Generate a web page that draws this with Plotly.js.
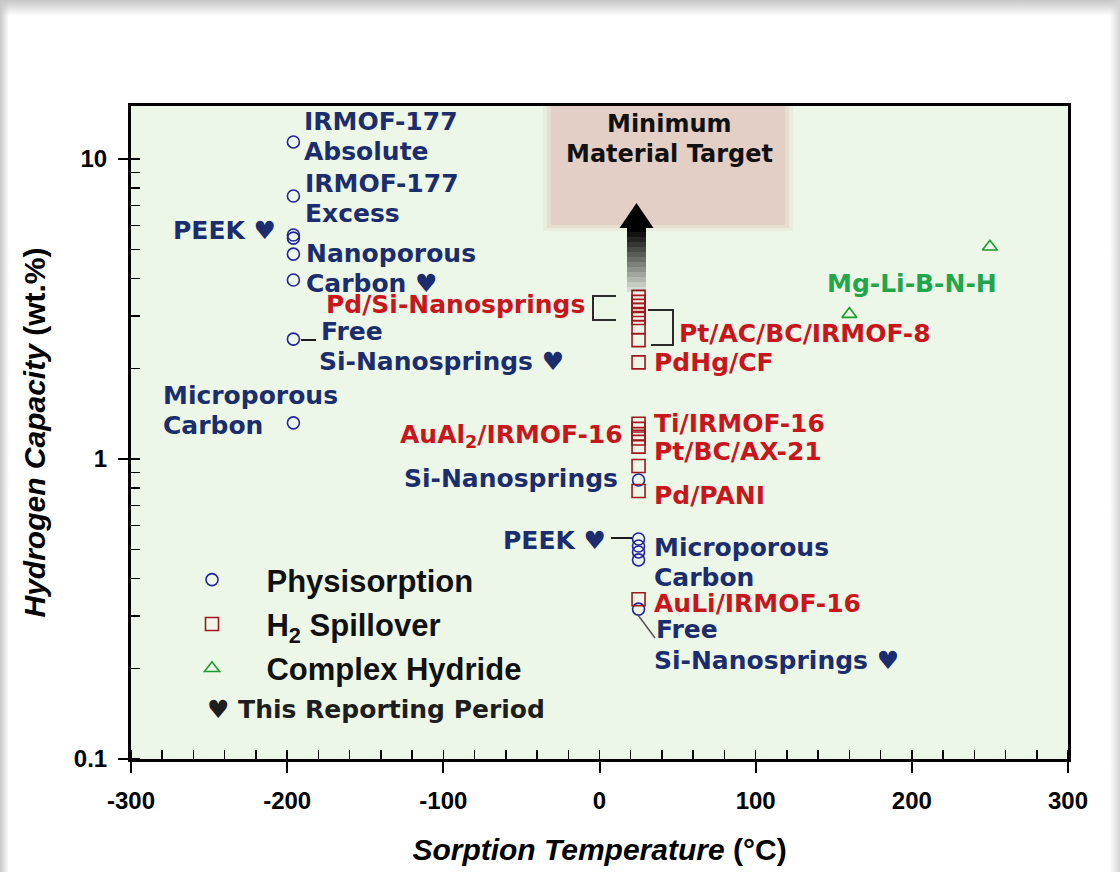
<!DOCTYPE html>
<html>
<head>
<meta charset="utf-8">
<script src="https://cdn.plot.ly/plotly-3.0.1.min.js"></script>
<style>
html,body{margin:0;padding:0;background:#fff;}
#wrap{position:relative;width:1120px;height:872px;overflow:hidden;}
#chart{position:absolute;left:0;top:0;width:1120px;height:872px;}
.edge{position:absolute;pointer-events:none;}
</style>
</head>
<body>
<div id="wrap">
<div id="chart"></div>
<div class="edge" style="left:0;top:0;width:1120px;height:16px;background:linear-gradient(#c6c6c6,rgba(255,255,255,0));"></div>
<div class="edge" style="left:0;top:0;width:9px;height:872px;background:linear-gradient(90deg,#c8c8c8,rgba(255,255,255,0));"></div>
<div class="edge" style="right:0;top:0;width:10px;height:872px;background:linear-gradient(270deg,#d4d4d4,rgba(255,255,255,0));"></div>
</div>
<script>
// ---------------- data ----------------
const physTemp = [-196, -196, -196, -196, -196, -196, -196, -196, 25, 25, 25, 25, 25, 25];
const physCap  = [11.4, 7.53, 5.58, 5.45, 4.82, 3.95, 2.51, 1.32, 0.851, 0.541, 0.513, 0.490, 0.461, 0.316];

const spillTemp = [25, 25, 25, 25, 25, 25, 25, 25, 25, 25, 25, 25, 25, 25, 25, 25, 25];
const spillCap  = [3.47, 3.34, 3.24, 3.14, 3.04, 2.95, 2.75, 2.49, 2.10, 1.31, 1.26, 1.21, 1.17, 1.10, 0.948, 0.782, 0.341];

const hydTemp = [160, 250];
const hydCap  = [3.04, 5.1];

const seriesNames = ['Physisorption', 'H<sub>2</sub> Spillover', 'Complex Hydride'];
const xTickVals = [-300, -200, -100, 0, 100, 200, 300];
const xTickText = ['-300', '-200', '-100', '0', '100', '200', '300'];
const xRange = [-300, 300];
const yRangeLog = [-1, 1.1767];

// ---------------- layout helpers ----------------
const L = 131, R = 1068, T = 106, B = 759;
const px = v => (v - L) / (R - L);
const py = v => (B - v) / (B - T);

const NAVY = '#1c2d6e', RED = '#c8161d', GREEN = '#22a64b';
const VFONT = 'DejaVu Sans, Verdana, sans-serif';
const AFONT = 'Liberation Sans, Arial, sans-serif';

function lab(text, x, y, anchor, color, size) {
  return {
    text: text, xref: 'paper', yref: 'paper', x: px(x), y: py(y),
    xanchor: anchor, yanchor: 'middle', align: anchor === 'right' ? 'right' : (anchor === 'center' ? 'center' : 'left'),
    showarrow: false, borderpad: 0,
    font: {family: VFONT, size: size || 25, color: color, weight: 'bold'}
  };
}

const annotations = [
  lab('IRMOF-177', 303, 121, 'left', NAVY),
  lab('Absolute', 303, 151, 'left', NAVY),
  lab('IRMOF-177', 304, 183, 'left', NAVY),
  lab('Excess', 304, 213, 'left', NAVY),
  lab('PEEK \u2665', 277, 231, 'right', NAVY),
  lab('Nanoporous', 305, 253, 'left', NAVY),
  lab('Carbon \u2665', 305, 283, 'left', NAVY),
  lab('Free', 320, 331, 'left', NAVY),
  lab('Si-Nanosprings \u2665', 318, 361, 'left', NAVY),
  lab('Microporous', 162, 395, 'left', NAVY),
  lab('Carbon', 162, 425, 'left', NAVY),
  lab('Si-Nanosprings', 619, 478, 'right', NAVY),
  lab('PEEK \u2665', 607, 540, 'right', NAVY),
  lab('Microporous', 653, 547, 'left', NAVY),
  lab('Carbon', 653, 577, 'left', NAVY),
  lab('Free', 655, 629, 'left', NAVY),
  lab('Si-Nanosprings \u2665', 653, 660, 'left', NAVY),
  lab('Pd/Si-Nanosprings', 586, 304, 'right', RED),
  lab('Pt/AC/BC/IRMOF-8', 678, 333, 'left', RED),
  lab('PdHg/CF', 653, 362, 'left', RED),
  lab('AuAl<sub>2</sub>/IRMOF-16', 624, 436, 'right', RED),
  lab('Ti/IRMOF-16', 653, 423, 'left', RED),
  lab('Pt/BC/AX-21', 653, 451, 'left', RED),
  lab('Pd/PANI', 653, 495, 'left', RED),
  lab('AuLi/IRMOF-16', 653, 603, 'left', RED),
  lab('Mg-Li-B-N-H', 826, 283, 'left', GREEN),
  lab('Minimum', 669, 124, 'center', '#111111', 24),
  lab('Material Target', 669, 154, 'center', '#111111', 24),
  lab('\u2665 This Reporting Period', 206, 709, 'left', '#1e1e1e', 25)
];

function pathP(pts, close) {
  return 'M' + pts.map(p => px(p[0]) + ',' + py(p[1])).join(' L') + (close ? ' Z' : '');
}
function rectP(x0, y0, x1, y1, fill, op) {
  return {type: 'rect', xref: 'paper', yref: 'paper', x0: px(x0), x1: px(x1), y0: py(y0), y1: py(y1),
          fillcolor: fill, opacity: op, line: {width: 0}, layer: 'below'};
}
function lineP(pts, color, w) {
  return {type: 'path', xref: 'paper', yref: 'paper', path: pathP(pts, false),
          line: {color: color, width: w}};
}

const shapes = [
  // target box with soft edges
  rectP(543, 106, 793, 231, '#e6d8cf', 0.35),
  rectP(547, 106, 789, 228, '#e4d3c9', 0.55),
  rectP(551, 106, 785, 225, '#e2cdc3', 0.85),
  // brackets and leader lines
  lineP([[301, 340], [316, 340]], '#1a1a1a', 2),
  lineP([[616, 296], [593, 296], [593, 320], [616, 320]], '#2a2a2a', 2),
  lineP([[648, 310], [673, 310], [673, 345], [651, 345]], '#2a2a2a', 2),
  lineP([[611, 538], [632, 538]], '#1a1a1a', 2),
  lineP([[638, 615], [655, 638]], '#555555', 1.5),
  // arrow head
  {type: 'path', xref: 'paper', yref: 'paper', path: pathP([[636.5, 203], [653.5, 228], [619.5, 228]], true),
   fillcolor: '#000000', line: {width: 0}}
];
// arrow shaft fading downward
for (let i = 0; i < 13; i++) {
  const y0 = 227 + i * 5;
  shapes.push({type: 'rect', xref: 'paper', yref: 'paper', x0: px(627), x1: px(646), y0: py(y0), y1: py(y0 + 5),
               fillcolor: '#000000', opacity: Math.max(0.06, 1 - i * 0.075), line: {width: 0}});
}

const traces = [
  {x: physTemp, y: physCap, name: seriesNames[0], type: 'scatter', mode: 'markers', legendgroup: 'a',
   marker: {symbol: 'circle-open', size: 12, color: '#2222a0', line: {width: 1.6}}},
  {x: spillTemp, y: spillCap, name: seriesNames[1], type: 'scatter', mode: 'markers', legendgroup: 'b',
   marker: {symbol: 'square-open', size: 13, color: '#a3161c', line: {width: 1.6}}},
  {x: hydTemp, y: hydCap, name: seriesNames[2], type: 'scatter', mode: 'markers', legendgroup: 'c',
   marker: {symbol: 'triangle-up-open', size: 13, color: '#1e9b2e', line: {width: 1.6}}}
];
traces.forEach(t => { t.name = '\u00a0\u00a0\u00a0\u00a0' + t.name; });

const tickFont = {family: AFONT, size: 24, color: '#000', weight: 'bold'};
const layout = {
  width: 1120, height: 872,
  margin: {l: L, r: 1120 - R, t: T, b: 872 - B},
  paper_bgcolor: '#ffffff',
  plot_bgcolor: '#edf7e7',
  showlegend: true,
  hovermode: false,
  xaxis: {
    range: xRange, tickmode: 'array', tickvals: xTickVals, ticktext: xTickText,
    ticks: 'outside', ticklen: 11, tickwidth: 2, tickcolor: '#000',
    showline: true, linewidth: 3, linecolor: '#000', mirror: true, showgrid: false, zeroline: false,
    tickfont: tickFont, ticklabelstandoff: 7,
    minor: {dtick: 20, ticks: 'inside', ticklen: 9, tickwidth: 1.5, tickcolor: '#000', showgrid: false},
    title: {text: '<b><i>Sorption Temperature</i> (°C)</b>', font: {family: AFONT, size: 30, color: '#000'}, standoff: 27}
  },
  yaxis: {
    type: 'log', range: yRangeLog, dtick: 1, ticks: 'outside', ticklen: 10, tickwidth: 2, tickcolor: '#000',
    showline: true, linewidth: 3, linecolor: '#000', mirror: true, showgrid: false, zeroline: false,
    tickfont: tickFont, ticklabelstandoff: 6,
    minor: {dtick: 'D1', ticks: 'inside', ticklen: 9, tickwidth: 1.5, tickcolor: '#000', showgrid: false},
    title: {text: '<b><i>Hydrogen Capacity</i> (wt.%)</b>', font: {family: AFONT, size: 30, color: '#000'}, standoff: 20}
  },
  legend: {
    x: px(192), y: py(553), xanchor: 'left', yanchor: 'top', bgcolor: 'rgba(0,0,0,0)',
    font: {family: AFONT, size: 31, color: '#111', weight: 'bold'}, tracegroupgap: 1
  },
  annotations: annotations,
  shapes: shapes
};

Plotly.newPlot('chart', traces, layout, {displayModeBar: false, staticPlot: true});
</script>
</body>
</html>
